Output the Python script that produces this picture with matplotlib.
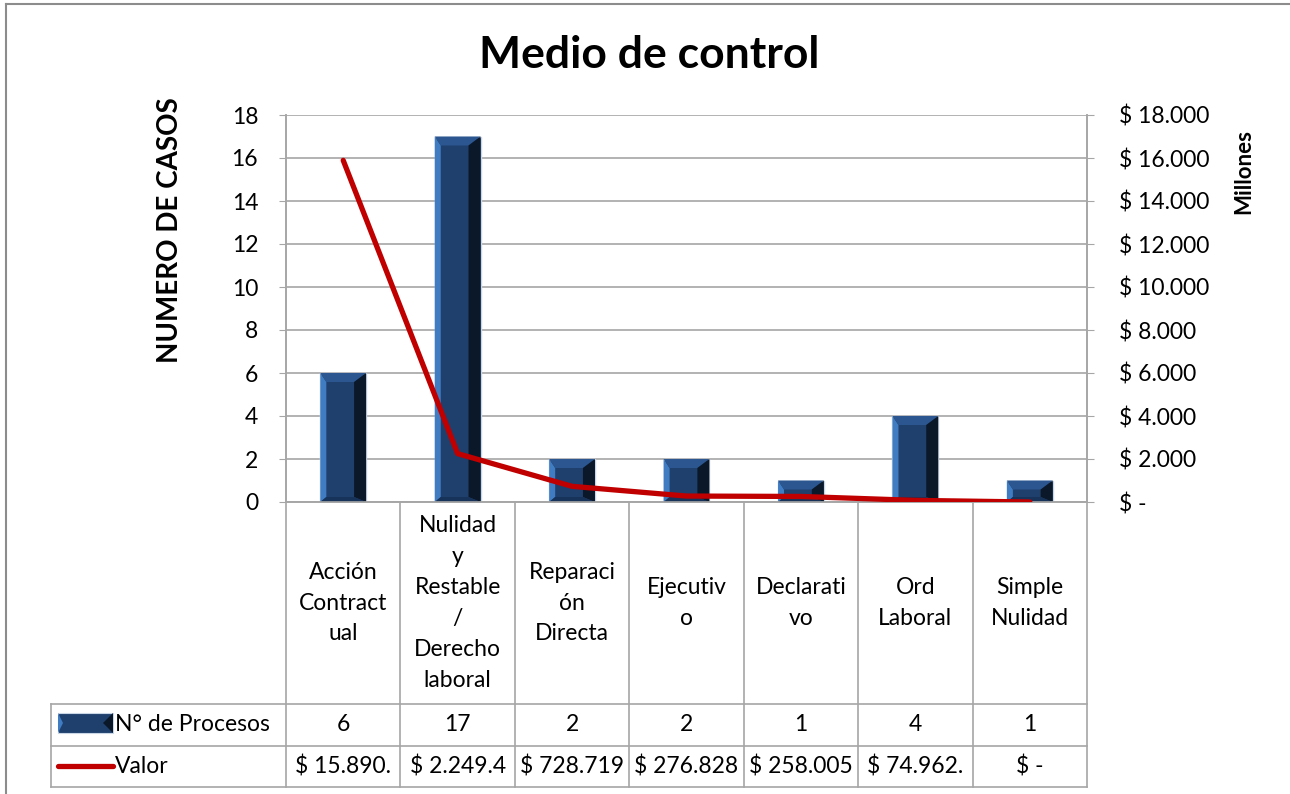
# grafico medio de control: casos (barras) y valor en millones (linea) con tabla de datos

import matplotlib
matplotlib.use('Agg')
import matplotlib.pyplot as plt
from matplotlib.patches import Polygon, Rectangle
from matplotlib.lines import Line2D
from matplotlib.ticker import FuncFormatter, MultipleLocator
import matplotlib.transforms as mtransforms

plt.rcParams['font.family'] = ['Lato', 'DejaVu Sans']

categorias = ['Acción\nContract\nual', 'Nulidad\ny\nRestable\n/\nDerecho\nlaboral',
              'Reparaci\nón\nDirecta', 'Ejecutiv\no', 'Declarati\nvo', 'Ord\nLaboral',
              'Simple\nNulidad']
casos = [6, 17, 2, 2, 1, 4, 1]
valor_millones = [15890.0, 2249.4, 728.719, 276.828, 258.005, 74.962, 0.0]
valor_texto = ['$ 15.890.', '$ 2.249.4', '$ 728.719', '$ 276.828', '$ 258.005', '$ 74.962.', '$ -']
filas = ['N° de Procesos', 'Valor']

W_PX, H_PX = 1290, 794
ax_l, ax_r, ax_t, ax_b = 286, 1087, 115, 502   # area de trazado en pixeles
fs = 16.5   # tamano de texto general

fig = plt.figure(figsize=(W_PX / 100, H_PX / 100), dpi=100)
ax = fig.add_axes([ax_l / W_PX, 1 - ax_b / H_PX, (ax_r - ax_l) / W_PX, (ax_b - ax_t) / H_PX])
ax2 = ax.twinx()

n = len(categorias)
x = list(range(n))
ax.set_xlim(-0.5, n - 0.5)
ax.set_ylim(0, 18)
ax2.set_ylim(0, 18000)

gris = '#a6a6a6'
ax.yaxis.set_major_locator(MultipleLocator(2))
ax2.yaxis.set_major_locator(MultipleLocator(2000))
ax.grid(axis='y', color=gris, lw=1.2, zorder=0)
ax.set_axisbelow(True)
ax.set_xticks([])
for a in (ax, ax2):
    for s in a.spines.values():
        s.set_color(gris)
        s.set_linewidth(1.2)
    a.spines['top'].set_visible(False)
ax.tick_params(axis='y', direction='out', length=5, color=gris, labelsize=fs, pad=15)
ax2.tick_params(axis='y', direction='out', length=5, color=gris, labelsize=fs, pad=18)

def pesos(v, pos):
    if v == 0:
        return '$ -'
    return '$ ' + f'{v:,.0f}'.replace(',', '.')
ax2.yaxis.set_major_formatter(FuncFormatter(pesos))

# barras con bisel
ancho = 0.4
sx = (n) / (ax_r - ax_l)      # unidades x por pixel
sy = 18.0 / (ax_b - ax_t)     # unidades y por pixel
c_centro, c_izq, c_sup, c_der, c_inf = '#1f3f6c', '#3f7cc2', '#2b5690', '#0b1829', '#183359'

bars = ax.bar(x, casos, width=ancho, color=c_centro, edgecolor='#c9d6e6', linewidth=1.0, zorder=2)
for b in bars:
    x0 = b.get_x(); x1 = x0 + b.get_width(); h = b.get_height()
    il, ir = 6 * sx, 12 * sx
    it = min(9 * sy, h / 2); ib = min(5 * sy, h / 2)
    caras = [
        ([(x0, 0), (x0, h), (x0 + il, h - it), (x0 + il, ib)], c_izq),
        ([(x0, h), (x1, h), (x1 - ir, h - it), (x0 + il, h - it)], c_sup),
        ([(x1, h), (x1, 0), (x1 - ir, ib), (x1 - ir, h - it)], c_der),
        ([(x1, 0), (x0, 0), (x0 + il, ib), (x1 - ir, ib)], c_inf),
    ]
    for pts, c in caras:
        ax.add_patch(Polygon(pts, closed=True, facecolor=c, edgecolor='none', zorder=3))

ax2.plot(x, valor_millones, color='#c00000', lw=3.8, solid_capstyle='round', zorder=4)

# tabla de datos
tr = mtransforms.blended_transform_factory(ax.transData, ax.transAxes)
def fy(py):
    return (ax_b - py) / (ax_b - ax_t)
def fx(px):
    return -0.5 + (px - ax_l) * sx

y_fila1, y_fila2, y_fin = fy(704), fy(745.5), fy(787)
x_izq = fx(51)
kw = dict(transform=tr, color=gris, lw=1.2, clip_on=False)
for k in range(n + 1):
    ax.add_line(Line2D([k - 0.5, k - 0.5], [0, y_fin], **kw))
for yy in (y_fila1, y_fila2, y_fin):
    ax.add_line(Line2D([x_izq, n - 0.5], [yy, yy], **kw))
ax.add_line(Line2D([x_izq, x_izq], [y_fila1, y_fin], **kw))

for i in x:
    ax.text(i, fy(603), categorias[i], transform=tr, ha='center', va='center',
            fontsize=fs, linespacing=1.58, clip_on=False)
    ax.text(i, (y_fila1 + y_fila2) / 2, str(casos[i]), transform=tr, ha='center',
            va='center', fontsize=fs, clip_on=False)
    ax.text(i, (y_fila2 + y_fin) / 2, valor_texto[i], transform=tr, ha='center',
            va='center', fontsize=fs, clip_on=False)

# claves de leyenda en la tabla
kx0, kx1 = fx(58), fx(113)
ky0, ky1 = fy(733), fy(713)
ax.add_patch(Rectangle((kx0, ky0), kx1 - kx0, ky1 - ky0, transform=tr, facecolor=c_centro,
                       edgecolor='#c9d6e6', lw=0.8, clip_on=False))
kb = 5 * sx
ax.add_patch(Polygon([(kx0, ky0), (kx0, ky1), (kx0 + kb, (ky0 + ky1) / 2)], transform=tr,
                     facecolor=c_izq, edgecolor='none', clip_on=False))
ax.add_patch(Polygon([(kx1, ky0), (kx1, ky1), (kx1 - 2 * kb, (ky0 + ky1) / 2)], transform=tr,
                     facecolor=c_der, edgecolor='none', clip_on=False))
ax.add_line(Line2D([kx0, kx1], [fy(766)] * 2, transform=tr, color='#c00000', lw=3.8,
                   solid_capstyle='round', clip_on=False))
ax.text(fx(115), (y_fila1 + y_fila2) / 2, filas[0], transform=tr, ha='left', va='center',
        fontsize=fs, clip_on=False)
ax.text(fx(115), (y_fila2 + y_fin) / 2, filas[1], transform=tr, ha='left', va='center',
        fontsize=fs, clip_on=False)

# titulos
fig.text(649 / W_PX, 1 - 55 / H_PX, 'Medio de control', ha='center', va='center',
         fontsize=32, fontweight='bold')
fig.text(170 / W_PX, 1 - 230 / H_PX, 'NUMERO DE CASOS', rotation=90, ha='center',
         va='center', fontsize=20, fontweight='bold')
fig.text(1244 / W_PX, 1 - 172 / H_PX, 'Millones', rotation=90, ha='center', va='center',
         fontsize=16, fontweight='bold')

# borde del area del grafico
fig.add_artist(Line2D([6 / W_PX, 1], [1 - 4 / H_PX] * 2, color='#8c8c8c', lw=1.5))
fig.add_artist(Line2D([6 / W_PX] * 2, [0, 1 - 4 / H_PX], color='#8c8c8c', lw=1.5))

fig.savefig('out.png', dpi=100)
